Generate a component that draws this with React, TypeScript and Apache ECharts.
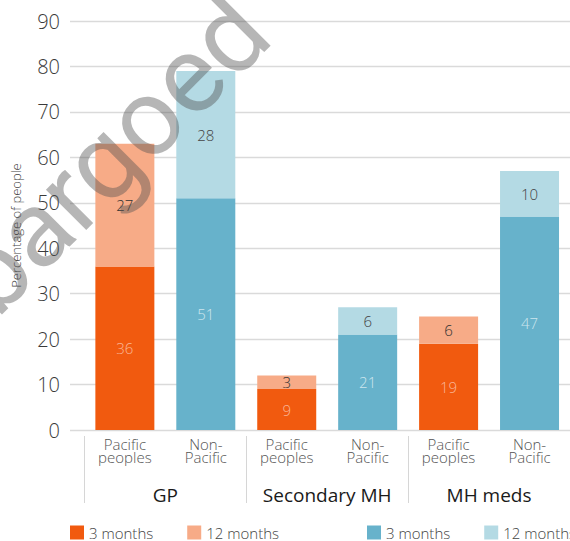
import React, { useEffect, useRef } from 'react';
import * as echarts from 'echarts';

const categories = ['Pacific\npeoples', 'Non-\nPacific', 'Pacific\npeoples', 'Non-\nPacific', 'Pacific\npeoples', 'Non-\nPacific'];
const groups = ['GP', 'Secondary MH', 'MH meds'];
const pacific3 = [36, '-', 9, '-', 19, '-'];
const pacific12 = [27, '-', 3, '-', 6, '-'];
const nonPacific3 = ['-', 51, '-', 21, '-', 47];
const nonPacific12 = ['-', 28, '-', 6, '-', 10];
const yTicks = { min: 0, max: 90, interval: 10 };

const FONT = "'Open Sans', 'Noto Sans', sans-serif";

export default function App() {
  const ref = useRef<HTMLDivElement>(null);
  useEffect(() => {
    const chart = echarts.init(ref.current!, null, { renderer: 'svg' });
    const legendNames: Record<string, string> = {
      P3: '3 months', P12: '12 months', N3: '3 months', N12: '12 months',
    };
    const mkLabel = (color: string) => ({
      show: true,
      position: 'inside',
      color,
      fontSize: 15,
      fontFamily: FONT,
      fontWeight: 300,
    });
    chart.setOption({
      animation: false,
      textStyle: { fontFamily: FONT },
      grid: [
        { left: 70, right: 0, top: 21, height: 409 },
        { left: 84.4, width: 493.2, top: 21, height: 409 },
      ],
      xAxis: [
        { gridIndex: 0, type: 'value', show: false, min: 0, max: 1 },
        {
          gridIndex: 1, type: 'category', data: categories, position: 'bottom',
          axisLine: { show: false }, axisTick: { show: false },
          axisLabel: { interval: 0, margin: 8, fontSize: 15, lineHeight: 12.5, color: '#555', fontFamily: FONT, fontWeight: 300 },
        },
        {
          gridIndex: 1, type: 'category', data: groups, position: 'bottom', offset: 6,
          axisLine: { show: false },
          axisTick: { show: true, interval: 0, length: 67, alignWithLabel: false, lineStyle: { color: '#d6d6d6', width: 1 } },
          axisLabel: { interval: 0, hideOverlap: false, margin: 49, fontSize: 19, color: '#1a1a1a', fontFamily: FONT },
        },
      ],
      yAxis: [
        {
          gridIndex: 0, type: 'value', ...yTicks,
          name: 'Percentage of people', nameLocation: 'middle', nameGap: 48,
          nameTextStyle: { fontSize: 13, color: '#444', fontFamily: FONT, fontWeight: 300 },
          axisLine: { show: false }, axisTick: { show: false },
          axisLabel: { margin: 10, fontSize: 20, color: '#3a3a3a', fontFamily: FONT, fontWeight: 300 },
          splitLine: { show: true, lineStyle: { color: '#dadada', width: 1.3 } },
        },
        { gridIndex: 1, type: 'value', ...yTicks, show: false, splitLine: { show: false } },
      ],
      legend: [
        {
          left: 70, top: 525, width: 400, padding: 0, itemWidth: 14, itemHeight: 14, itemGap: 34,
          icon: 'rect', data: ['P3', 'P12'], formatter: (n: string) => legendNames[n],
          textStyle: { fontSize: 15, color: '#444', fontFamily: FONT, fontWeight: 300 },
        },
        {
          left: 367, top: 525, width: 400, padding: 0, itemWidth: 14, itemHeight: 14, itemGap: 34,
          icon: 'rect', data: ['N3', 'N12'], formatter: (n: string) => legendNames[n],
          textStyle: { fontSize: 15, color: '#444', fontFamily: FONT, fontWeight: 300 },
        },
      ],
      series: [
        { name: 'P3', type: 'bar', stack: 'a', xAxisIndex: 1, yAxisIndex: 1, barWidth: 59, data: pacific3, itemStyle: { color: '#f15a0f' }, label: mkLabel('#f9b696') },
        { name: 'P12', type: 'bar', stack: 'a', xAxisIndex: 1, yAxisIndex: 1, barWidth: 59, data: pacific12, itemStyle: { color: '#f7ab87' }, label: mkLabel('#333') },
        { name: 'N3', type: 'bar', stack: 'a', xAxisIndex: 1, yAxisIndex: 1, barWidth: 59, data: nonPacific3, itemStyle: { color: '#67b2cb' }, label: mkLabel('#cde6ee') },
        { name: 'N12', type: 'bar', stack: 'a', xAxisIndex: 1, yAxisIndex: 1, barWidth: 59, data: nonPacific12, itemStyle: { color: '#b4dae4' }, label: mkLabel('#444') },
      ],
      graphic: [
        {
          type: 'text', x: 250, y: 14, rotation: Math.PI / 4, z: 100, silent: true,
          style: {
            text: 'Embargoed', fontSize: 108, fontFamily: 'Roboto',
            fill: 'rgba(80,80,80,0.42)', align: 'right', verticalAlign: 'middle',
          },
        },
      ],
    });
    return () => chart.dispose();
  }, []);
  return <div ref={ref} style={{ position: 'absolute', left: 0, top: 0, width: 570, height: 541 }} />;
}
